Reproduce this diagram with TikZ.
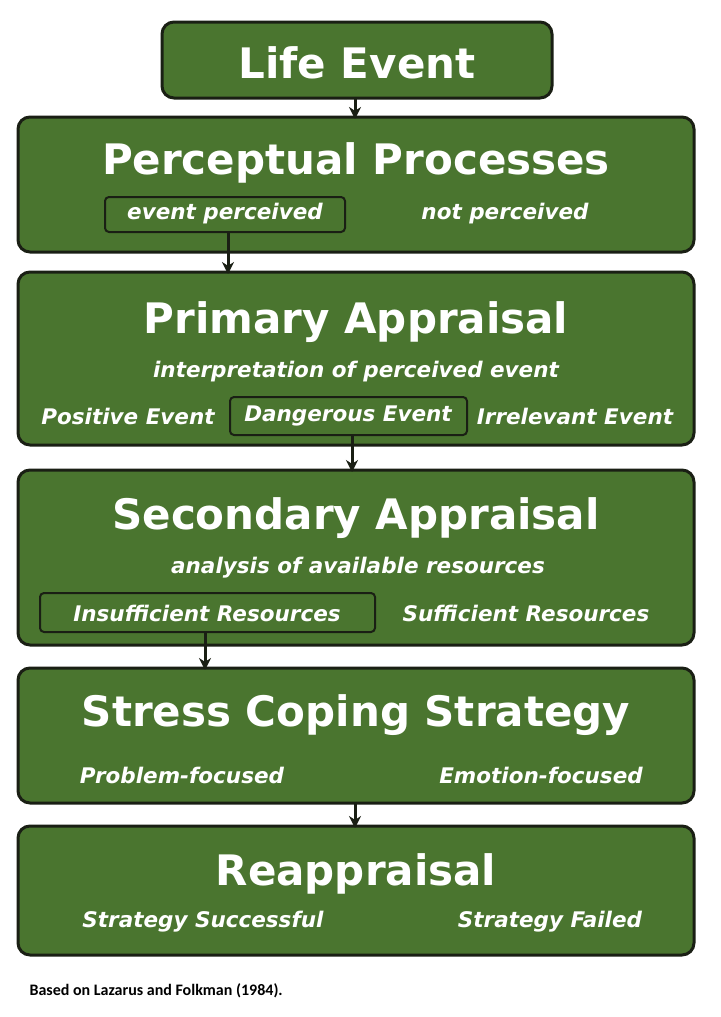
\documentclass[tikz,border=0pt]{standalone}
\usepackage{fontspec}
\setmainfont{DejaVu Sans}
\newfontfamily\capf{Carlito}
\usetikzlibrary{arrows.meta}
\definecolor{gr}{HTML}{4A752F}
\definecolor{bd}{HTML}{1A1F14}
\tikzset{
 panel/.style={draw=bd,line width=3pt,fill=gr,rounded corners=12pt},
 sub/.style={draw=bd,line width=2pt,rounded corners=4pt},
 ttl/.style={text=white,font=\bfseries\fontsize{42}{46}\selectfont},
 lbl/.style={text=white,font=\bfseries\itshape\fontsize{21.5}{25}\selectfont},
 arr/.style={-{Stealth[length=12pt,width=12pt]},line width=3pt,draw=bd}
}
\begin{document}
\begin{tikzpicture}[x=1pt,y=-1pt]
\useasboundingbox (0,0) rectangle (720,1017);
\fill[white] (0,0) rectangle (720,1017);
\draw[panel] (162,22) rectangle (552,98);
\node[ttl] (le) at (357,63) {Life Event};
\draw[panel] (18,117) rectangle (694,252);
\node[ttl] (pp) at (356,163) {Perceptual Processes};
\draw[panel] (18,272) rectangle (694,445);
\node[ttl] (pa) at (356,322) {Primary Appraisal};
\draw[panel] (18,470) rectangle (694,645);
\node[ttl] (sa) at (356,518) {Secondary Appraisal};
\draw[panel] (18,668) rectangle (694,803);
\node[ttl] (sc) at (356,715) {Stress Coping Strategy};
\draw[panel] (18,826) rectangle (694,955);
\node[ttl] (ra) at (356,874) {Reappraisal};
% sub boxes
\draw[sub] (105,197) rectangle (345,232);
\node[lbl] (ep) at (225,214) {event perceived};
\node[lbl] (np) at (505,214) {not perceived};
\node[lbl] (ip) at (356,372) {interpretation of perceived event};
\node[lbl] (pe) at (128,416) {Positive Event};
\draw[sub] (230,397) rectangle (467,435);
\node[lbl] (de) at (348,416) {Dangerous Event};
\node[lbl] (ie) at (575,416) {Irrelevant Event};
\node[lbl] (an) at (358,568) {analysis of available resources};
\draw[sub] (40,593) rectangle (375,632);
\node[lbl] (ir) at (207,613) {Insufficient Resources};
\node[lbl] (sr) at (526,613) {Sufficient Resources};
\node[lbl] (pf) at (182,775) {Problem-focused};
\node[lbl] (ef) at (541,775) {Emotion-focused};
\node[lbl] (ss) at (203,922) {Strategy Successful};
\node[lbl] (sf) at (550,922) {Strategy Failed};
\node[anchor=west,font=\capf\bfseries\fontsize{16}{18}\selectfont] (cap) at (26,991) {Based on Lazarus and Folkman (1984).};
% arrows
\coordinate (a1) at (355,98); \coordinate (b1) at (355,119);
\coordinate (a2) at (228,232); \coordinate (b2) at (228,274);
\coordinate (a3) at (352,435); \coordinate (b3) at (352,472);
\coordinate (a4) at (205,632); \coordinate (b4) at (205,670);
\coordinate (a5) at (355,803); \coordinate (b5) at (355,828);
\foreach \i in {1,...,5} \draw[arr] (a\i) -- (b\i);
\end{tikzpicture}
\end{document}
